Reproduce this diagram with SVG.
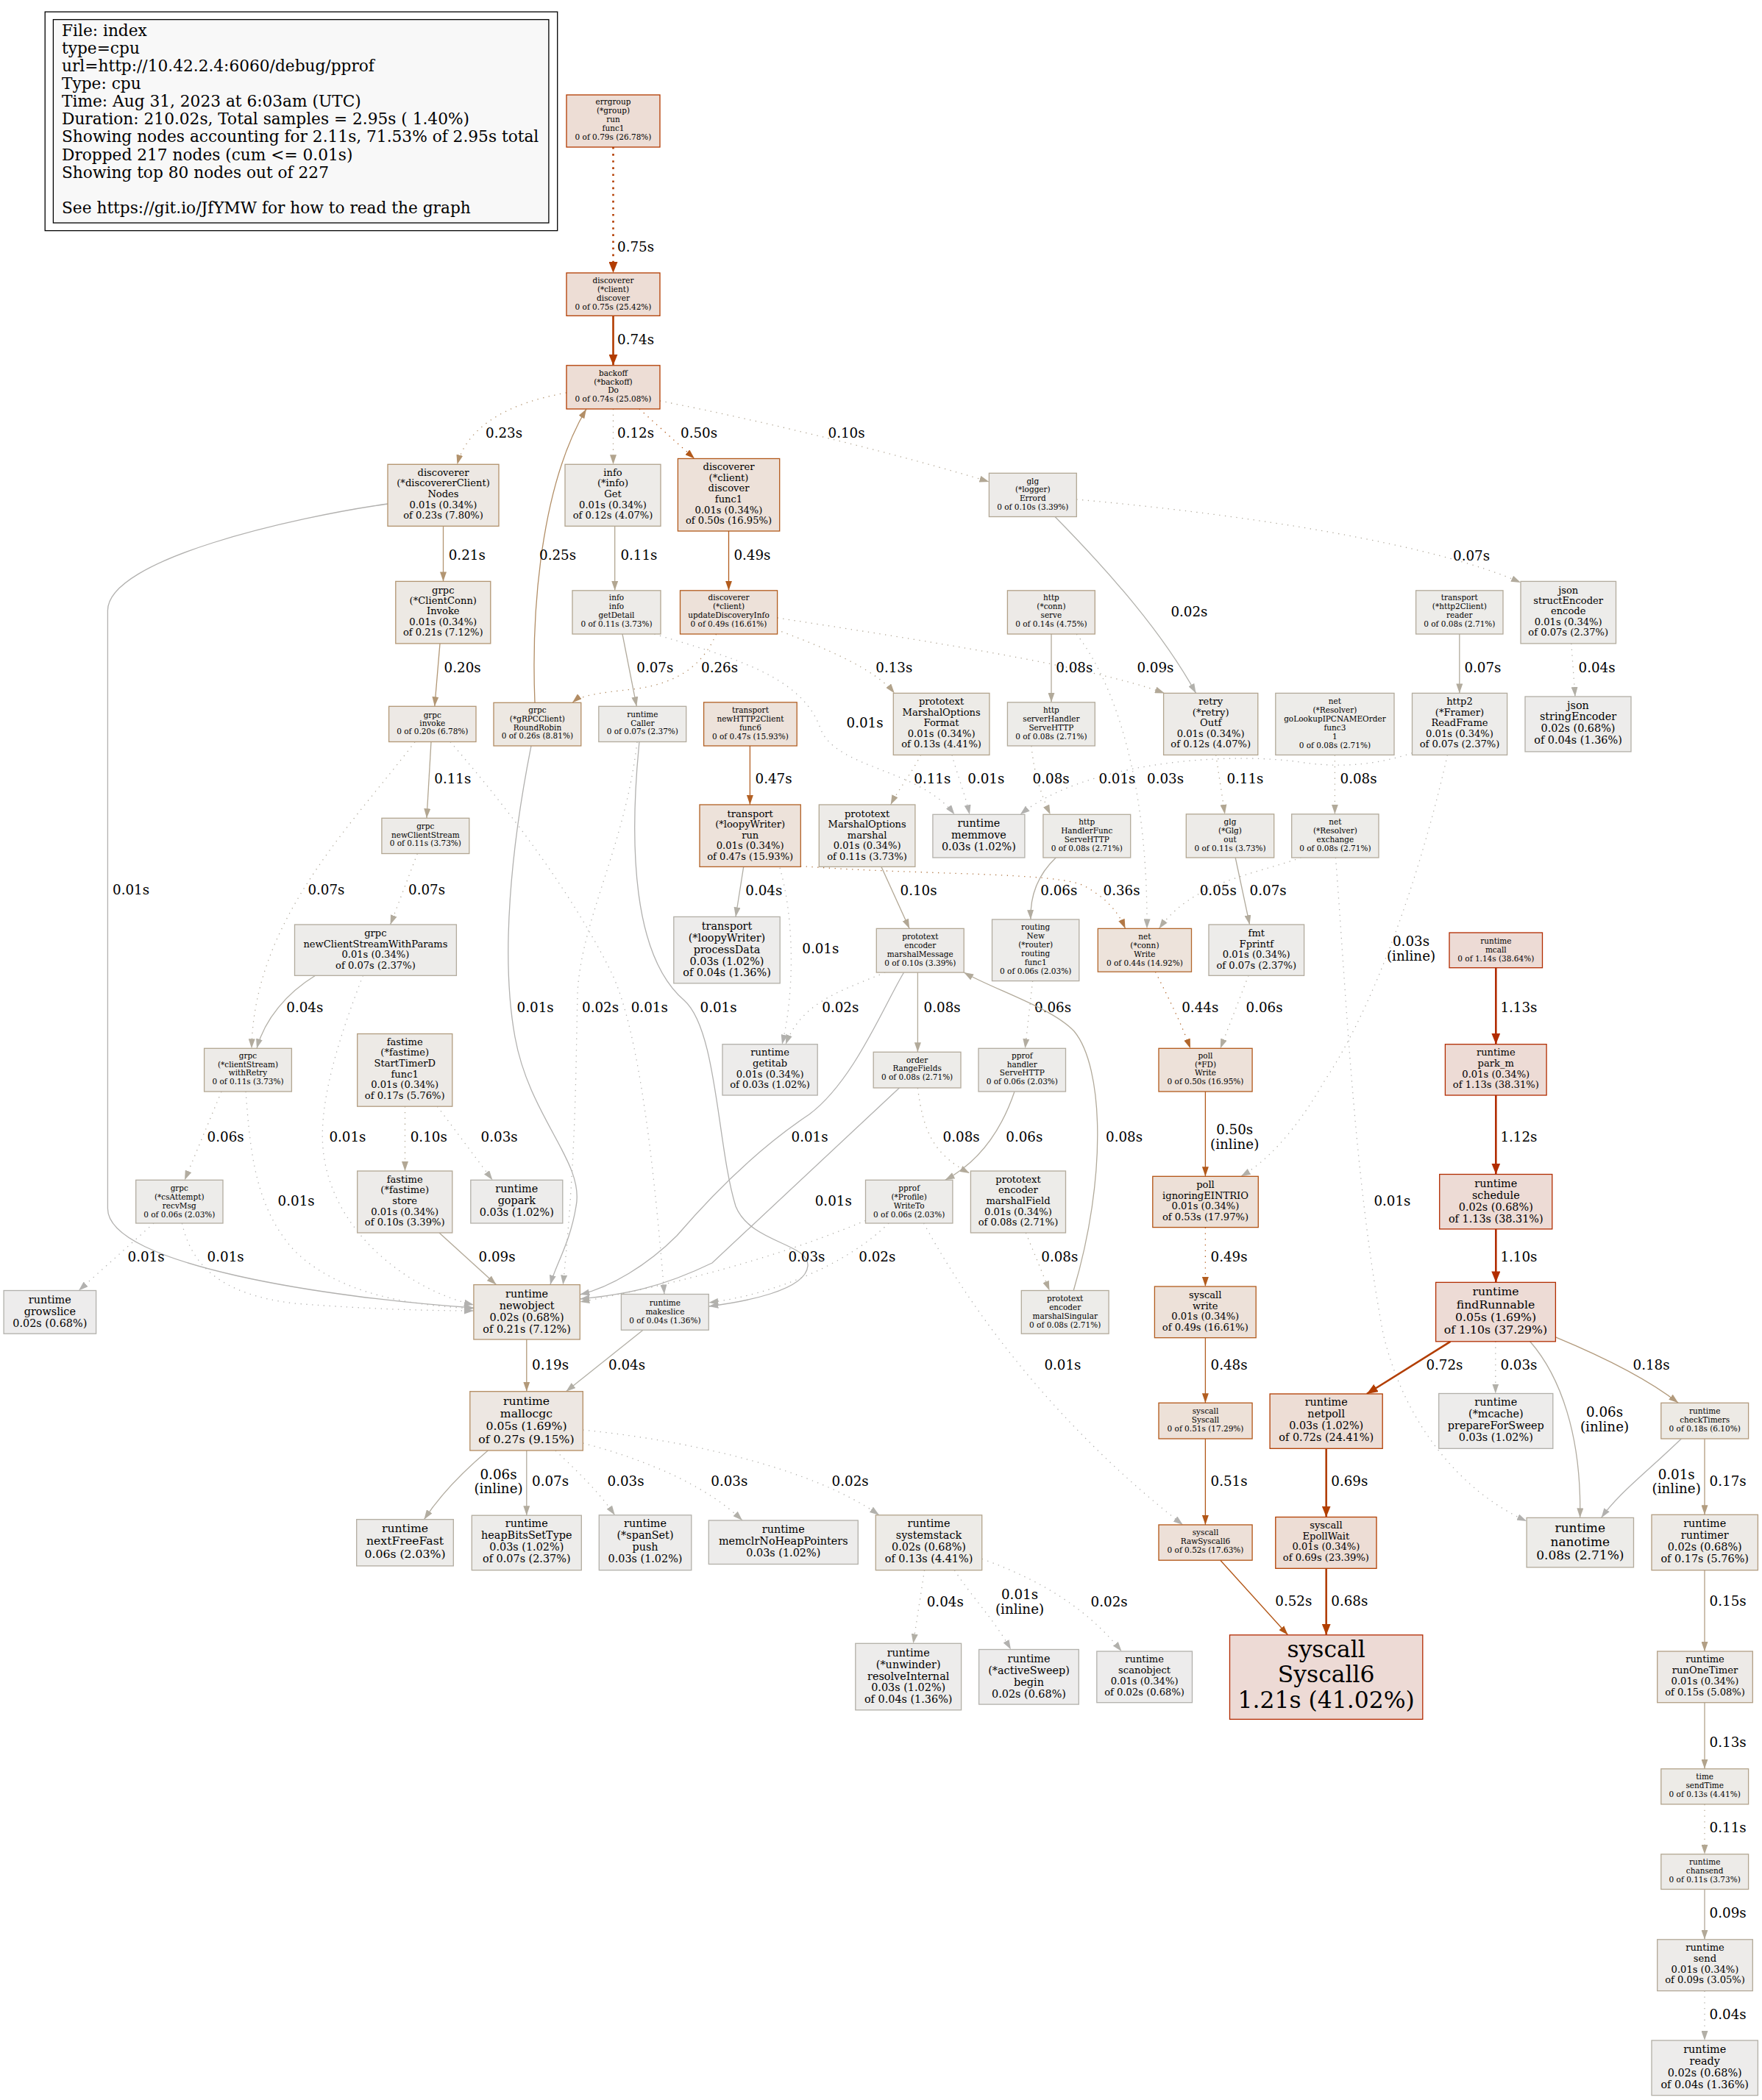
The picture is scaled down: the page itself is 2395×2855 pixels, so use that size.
<svg xmlns="http://www.w3.org/2000/svg" width="2395" height="2855" viewBox="0 0 2395 2855">
<defs>
<style>
text{font-family:"DejaVu Serif",serif;fill:#000}
.n text{text-anchor:middle}
.n rect{stroke-width:1.3}
.t8{font-size:10.5px}
.t10{font-size:13.1px}
.t11{font-size:14.4px}
.t12{font-size:15.7px}
.t13{font-size:17px}
.t24{font-size:31.4px}
.c text{font-size:18.3px}
.c text.m{text-anchor:middle}
.c path{fill:none;stroke-width:1.3}
.c path.b{stroke-width:2.6}
.c path.d{stroke-dasharray:1.3,6.5}
.c path.b.d{stroke-dasharray:2.6,6.5}
.w01{stroke:#b2b1af;marker-end:url(#m01)}
.w02{stroke:#b2b1ac;marker-end:url(#m02)}
.w03{stroke:#b2b0a9;marker-end:url(#m03)}
.w04{stroke:#b2afa6;marker-end:url(#m04)}
.w05{stroke:#b2aea3;marker-end:url(#m05)}
.w06{stroke:#b2aca0;marker-end:url(#m06)}
.w07{stroke:#b2ab9d;marker-end:url(#m07)}
.w08{stroke:#b2aa9a;marker-end:url(#m08)}
.w09{stroke:#b2a897;marker-end:url(#m09)}
.w10{stroke:#b2a794;marker-end:url(#m10)}
.w11{stroke:#b2a691;marker-end:url(#m11)}
.w12{stroke:#b2a48e;marker-end:url(#m12)}
.w13{stroke:#b2a38b;marker-end:url(#m13)}
.w15{stroke:#b29f85;marker-end:url(#m15)}
.w17{stroke:#b29c7f;marker-end:url(#m17)}
.w18{stroke:#b29a7c;marker-end:url(#m18)}
.w19{stroke:#b29979;marker-end:url(#m19)}
.w20{stroke:#b29775;marker-end:url(#m20)}
.w21{stroke:#b29572;marker-end:url(#m21)}
.w23{stroke:#b2926c;marker-end:url(#m23)}
.w25{stroke:#b28e66;marker-end:url(#m25)}
.w26{stroke:#b28c63;marker-end:url(#m26)}
.w36{stroke:#b27845;marker-end:url(#m36)}
.w44{stroke:#b2672d;marker-end:url(#m44)}
.w47{stroke:#b26024;marker-end:url(#m47)}
.w48{stroke:#b25e21;marker-end:url(#m48)}
.w49{stroke:#b25c1e;marker-end:url(#m49)}
.w50{stroke:#b2591b;marker-end:url(#m50)}
.w51{stroke:#b25718;marker-end:url(#m51)}
.w52{stroke:#b25515;marker-end:url(#m52)}
.w69{stroke:#b23f00;marker-end:url(#m69)}
.w72{stroke:#b23d00;marker-end:url(#m72)}
.w75{stroke:#b23c00;marker-end:url(#m75)}
.w110{stroke:#b22d00;marker-end:url(#m110)}
.w113{stroke:#b22c00;marker-end:url(#m113)}
</style>
<marker id="m01" viewBox="0 0 13 9" refX="13" refY="4.5" markerWidth="13" markerHeight="9" markerUnits="userSpaceOnUse" orient="auto"><path d="M0,0L13,4.5L0,9z" fill="#b2b1af"/></marker>
<marker id="m02" viewBox="0 0 13 9" refX="13" refY="4.5" markerWidth="13" markerHeight="9" markerUnits="userSpaceOnUse" orient="auto"><path d="M0,0L13,4.5L0,9z" fill="#b2b1ac"/></marker>
<marker id="m03" viewBox="0 0 13 9" refX="13" refY="4.5" markerWidth="13" markerHeight="9" markerUnits="userSpaceOnUse" orient="auto"><path d="M0,0L13,4.5L0,9z" fill="#b2b0a9"/></marker>
<marker id="m04" viewBox="0 0 13 9" refX="13" refY="4.5" markerWidth="13" markerHeight="9" markerUnits="userSpaceOnUse" orient="auto"><path d="M0,0L13,4.5L0,9z" fill="#b2afa6"/></marker>
<marker id="m05" viewBox="0 0 13 9" refX="13" refY="4.5" markerWidth="13" markerHeight="9" markerUnits="userSpaceOnUse" orient="auto"><path d="M0,0L13,4.5L0,9z" fill="#b2aea3"/></marker>
<marker id="m06" viewBox="0 0 13 9" refX="13" refY="4.5" markerWidth="13" markerHeight="9" markerUnits="userSpaceOnUse" orient="auto"><path d="M0,0L13,4.5L0,9z" fill="#b2aca0"/></marker>
<marker id="m07" viewBox="0 0 13 9" refX="13" refY="4.5" markerWidth="13" markerHeight="9" markerUnits="userSpaceOnUse" orient="auto"><path d="M0,0L13,4.5L0,9z" fill="#b2ab9d"/></marker>
<marker id="m08" viewBox="0 0 13 9" refX="13" refY="4.5" markerWidth="13" markerHeight="9" markerUnits="userSpaceOnUse" orient="auto"><path d="M0,0L13,4.5L0,9z" fill="#b2aa9a"/></marker>
<marker id="m09" viewBox="0 0 13 9" refX="13" refY="4.5" markerWidth="13" markerHeight="9" markerUnits="userSpaceOnUse" orient="auto"><path d="M0,0L13,4.5L0,9z" fill="#b2a897"/></marker>
<marker id="m10" viewBox="0 0 13 9" refX="13" refY="4.5" markerWidth="13" markerHeight="9" markerUnits="userSpaceOnUse" orient="auto"><path d="M0,0L13,4.5L0,9z" fill="#b2a794"/></marker>
<marker id="m11" viewBox="0 0 13 9" refX="13" refY="4.5" markerWidth="13" markerHeight="9" markerUnits="userSpaceOnUse" orient="auto"><path d="M0,0L13,4.5L0,9z" fill="#b2a691"/></marker>
<marker id="m12" viewBox="0 0 13 9" refX="13" refY="4.5" markerWidth="13" markerHeight="9" markerUnits="userSpaceOnUse" orient="auto"><path d="M0,0L13,4.5L0,9z" fill="#b2a48e"/></marker>
<marker id="m13" viewBox="0 0 13 9" refX="13" refY="4.5" markerWidth="13" markerHeight="9" markerUnits="userSpaceOnUse" orient="auto"><path d="M0,0L13,4.5L0,9z" fill="#b2a38b"/></marker>
<marker id="m15" viewBox="0 0 13 9" refX="13" refY="4.5" markerWidth="13" markerHeight="9" markerUnits="userSpaceOnUse" orient="auto"><path d="M0,0L13,4.5L0,9z" fill="#b29f85"/></marker>
<marker id="m17" viewBox="0 0 13 9" refX="13" refY="4.5" markerWidth="13" markerHeight="9" markerUnits="userSpaceOnUse" orient="auto"><path d="M0,0L13,4.5L0,9z" fill="#b29c7f"/></marker>
<marker id="m18" viewBox="0 0 13 9" refX="13" refY="4.5" markerWidth="13" markerHeight="9" markerUnits="userSpaceOnUse" orient="auto"><path d="M0,0L13,4.5L0,9z" fill="#b29a7c"/></marker>
<marker id="m19" viewBox="0 0 13 9" refX="13" refY="4.5" markerWidth="13" markerHeight="9" markerUnits="userSpaceOnUse" orient="auto"><path d="M0,0L13,4.5L0,9z" fill="#b29979"/></marker>
<marker id="m20" viewBox="0 0 13 9" refX="13" refY="4.5" markerWidth="13" markerHeight="9" markerUnits="userSpaceOnUse" orient="auto"><path d="M0,0L13,4.5L0,9z" fill="#b29775"/></marker>
<marker id="m21" viewBox="0 0 13 9" refX="13" refY="4.5" markerWidth="13" markerHeight="9" markerUnits="userSpaceOnUse" orient="auto"><path d="M0,0L13,4.5L0,9z" fill="#b29572"/></marker>
<marker id="m23" viewBox="0 0 13 9" refX="13" refY="4.5" markerWidth="13" markerHeight="9" markerUnits="userSpaceOnUse" orient="auto"><path d="M0,0L13,4.5L0,9z" fill="#b2926c"/></marker>
<marker id="m25" viewBox="0 0 13 9" refX="13" refY="4.5" markerWidth="13" markerHeight="9" markerUnits="userSpaceOnUse" orient="auto"><path d="M0,0L13,4.5L0,9z" fill="#b28e66"/></marker>
<marker id="m26" viewBox="0 0 13 9" refX="13" refY="4.5" markerWidth="13" markerHeight="9" markerUnits="userSpaceOnUse" orient="auto"><path d="M0,0L13,4.5L0,9z" fill="#b28c63"/></marker>
<marker id="m36" viewBox="0 0 13 9" refX="13" refY="4.5" markerWidth="13" markerHeight="9" markerUnits="userSpaceOnUse" orient="auto"><path d="M0,0L13,4.5L0,9z" fill="#b27845"/></marker>
<marker id="m44" viewBox="0 0 13 9" refX="13" refY="4.5" markerWidth="13" markerHeight="9" markerUnits="userSpaceOnUse" orient="auto"><path d="M0,0L13,4.5L0,9z" fill="#b2672d"/></marker>
<marker id="m47" viewBox="0 0 13 9" refX="13" refY="4.5" markerWidth="13" markerHeight="9" markerUnits="userSpaceOnUse" orient="auto"><path d="M0,0L13,4.5L0,9z" fill="#b26024"/></marker>
<marker id="m48" viewBox="0 0 13 9" refX="13" refY="4.5" markerWidth="13" markerHeight="9" markerUnits="userSpaceOnUse" orient="auto"><path d="M0,0L13,4.5L0,9z" fill="#b25e21"/></marker>
<marker id="m49" viewBox="0 0 13 9" refX="13" refY="4.5" markerWidth="13" markerHeight="9" markerUnits="userSpaceOnUse" orient="auto"><path d="M0,0L13,4.5L0,9z" fill="#b25c1e"/></marker>
<marker id="m50" viewBox="0 0 13 9" refX="13" refY="4.5" markerWidth="13" markerHeight="9" markerUnits="userSpaceOnUse" orient="auto"><path d="M0,0L13,4.5L0,9z" fill="#b2591b"/></marker>
<marker id="m51" viewBox="0 0 13 9" refX="13" refY="4.5" markerWidth="13" markerHeight="9" markerUnits="userSpaceOnUse" orient="auto"><path d="M0,0L13,4.5L0,9z" fill="#b25718"/></marker>
<marker id="m52" viewBox="0 0 13 9" refX="13" refY="4.5" markerWidth="13" markerHeight="9" markerUnits="userSpaceOnUse" orient="auto"><path d="M0,0L13,4.5L0,9z" fill="#b25515"/></marker>
<marker id="m69" viewBox="0 0 15 12" refX="15" refY="6" markerWidth="15" markerHeight="12" markerUnits="userSpaceOnUse" orient="auto"><path d="M0,0L15,6L0,12z" fill="#b23f00"/></marker>
<marker id="m72" viewBox="0 0 15 12" refX="15" refY="6" markerWidth="15" markerHeight="12" markerUnits="userSpaceOnUse" orient="auto"><path d="M0,0L15,6L0,12z" fill="#b23d00"/></marker>
<marker id="m75" viewBox="0 0 15 12" refX="15" refY="6" markerWidth="15" markerHeight="12" markerUnits="userSpaceOnUse" orient="auto"><path d="M0,0L15,6L0,12z" fill="#b23c00"/></marker>
<marker id="m110" viewBox="0 0 15 12" refX="15" refY="6" markerWidth="15" markerHeight="12" markerUnits="userSpaceOnUse" orient="auto"><path d="M0,0L15,6L0,12z" fill="#b22d00"/></marker>
<marker id="m113" viewBox="0 0 15 12" refX="15" refY="6" markerWidth="15" markerHeight="12" markerUnits="userSpaceOnUse" orient="auto"><path d="M0,0L15,6L0,12z" fill="#b22c00"/></marker>
</defs>
<rect x="0" y="0" width="2395" height="2855" fill="#ffffff"/>

<g id="legend">
<rect x="61.2" y="16.1" width="696.5" height="297.5" fill="none" stroke="#000" stroke-width="1.3"/>
<rect x="72.4" y="26.6" width="673.5" height="276.4" fill="#f8f8f8" stroke="#000" stroke-width="1.3"/>
<g font-size="21.7px">
<text x="84" y="49.1">File: index</text>
<text x="84" y="73.2">type=cpu</text>
<text x="84" y="97.2">url=http://10.42.2.4:6060/debug/pprof</text>
<text x="84" y="121.3">Type: cpu</text>
<text x="84" y="145.3">Time: Aug 31, 2023 at 6:03am (UTC)</text>
<text x="84" y="169.4">Duration: 210.02s, Total samples = 2.95s ( 1.40%)</text>
<text x="84" y="193.4">Showing nodes accounting for 2.11s, 71.53% of 2.95s total</text>
<text x="84" y="217.5">Dropped 217 nodes (cum &lt;= 0.01s)</text>
<text x="84" y="241.5">Showing top 80 nodes out of 227</text>
<text x="84" y="289.6">See https://git.io/JfYMW for how to read the graph</text>
</g>
</g>

<g id="connectors" class="c">
<path class="w75 d b" d="M833.5,200 L833.5,371"/><text x="839" y="342">0.75s</text>
<path class="w75 b" d="M833.5,429.3 L833.5,496.8"/><text x="839" y="468.3">0.74s</text>
<path class="w23 d" d="M770,534 C690,548 635,580 621.5,631.3"/><text x="660" y="594.6">0.23s</text>
<path class="w12 d" d="M833.5,556 L833.5,631.3"/><text x="839" y="594.6">0.12s</text>
<path class="w50 d" d="M869,556 L944,623.5"/><text x="925" y="594.6">0.50s</text>
<path class="w10 d" d="M897,545 C1050,575 1230,620 1344.4,655"/><text x="1125.5" y="594.6">0.10s</text>
<path class="w21" d="M602.5,715.3 L602.5,790.4"/><text x="609.7" y="761">0.21s</text>
<path class="w01" d="M527,685 C400,703 146.4,760 146.4,830 L146.4,1643 C146.4,1720 450,1765 643.9,1778"/><text x="153" y="1216">0.01s</text>
<path class="w49" d="M990.5,722 L990.5,802.8"/><text x="997.4" y="761">0.49s</text>
<path class="w11" d="M835.7,715.3 L835.7,802.8"/><text x="843.4" y="761">0.11s</text>
<path class="w02" d="M1434,702.5 C1510,780 1580,860 1625.6,942.4"/><text x="1591.4" y="837.7">0.02s</text>
<path class="w07 d" d="M1463.3,679 C1700,700 1950,740 2067,792"/><text x="1975" y="762">0.07s</text>
<path class="w20" d="M598,874.9 L590.8,960.3"/><text x="603.6" y="913.5">0.20s</text>
<path class="w11" d="M586,1008.5 L580,1112.3"/><text x="590.3" y="1065">0.11s</text>
<path class="w07 d" d="M564,1008.5 C480,1120 345,1250 342,1425.3"/><text x="418.4" y="1216">0.07s</text>
<path class="w01 d" d="M612,1008.5 C700,1110 780,1220 830,1320 C870,1400 890,1600 903,1759.5"/><text x="857.7" y="1375.8">0.01s</text>
<path class="w25" d="M727,955.3 C722,830 735,660 797,556"/><text x="733" y="761">0.25s</text>
<path class="w01" d="M722,1014 C695,1150 680,1300 700,1410 C720,1520 795,1580 783,1640 C775,1690 755,1720 748,1746.6"/><text x="702.6" y="1375.8">0.01s</text>
<path class="w26 d" d="M973.5,862 C955,905 920,930 860,937 C815,942 790,945 778,955.3"/><text x="953" y="913.5">0.26s</text>
<path class="w13 d" d="M1055,856 C1120,880 1190,910 1215.8,942.4"/><text x="1190.3" y="913.5">0.13s</text>
<path class="w09 d" d="M1056.6,840 C1250,870 1480,905 1583,942.4"/><text x="1545.4" y="913.5">0.09s</text>
<path class="w07" d="M846,862 L865.3,960.3"/><text x="865.3" y="913.5">0.07s</text>
<path class="w01 d" d="M889.3,862 C1000,895 1090,920 1115,990 C1135,1045 1250,1045 1297.4,1107.3"/><text x="1150.5" y="989.3">0.01s</text>
<path class="w02 d" d="M866,1008.5 C850,1150 790,1250 785,1350 L783,1450 C780,1600 770,1700 765.3,1746.6"/><text x="791" y="1375.8">0.02s</text>
<path class="w01" d="M869,1008.5 C855,1150 860,1300 930,1360 C975,1400 975,1560 1000,1640 C1020,1690 1100,1690 1098,1721 C1095,1755 1010,1770 963.3,1776"/><text x="951.5" y="1375.8">0.01s</text>
<path class="w47" d="M1019.4,1014 L1019.4,1094"/><text x="1026.5" y="1065">0.47s</text>
<path class="w04" d="M1010.7,1178.4 L1000,1246.4"/><text x="1013.3" y="1216.5">0.04s</text>
<path class="w01 d" d="M1060,1179.8 C1080,1250 1080,1350 1063,1419.7"/><text x="1090.3" y="1296">0.01s</text>
<path class="w36 d" d="M1088,1177.5 C1250,1190 1440,1185 1475,1205 C1505,1222 1520,1240 1529.6,1262.4"/><text x="1499.5" y="1216.5">0.36s</text>
<path class="w11 d" d="M1251.5,1026.4 C1240,1050 1220,1075 1210.7,1094"/><text x="1242.3" y="1065">0.11s</text>
<path class="w01 d" d="M1294,1026.4 C1300,1050 1312,1080 1317.9,1107.3"/><text x="1315.3" y="1065">0.01s</text>
<path class="w10" d="M1198,1178.4 L1236.2,1262.4"/><text x="1223.5" y="1216.5">0.10s</text>
<path class="w02 d" d="M1203,1322 C1150,1345 1090,1360 1068,1419.7"/><text x="1117.3" y="1375.8">0.02s</text>
<path class="w08" d="M1247.4,1322.1 L1247.4,1430.3"/><text x="1255.6" y="1375.8">0.08s</text>
<path class="w01" d="M1228.6,1322 C1200,1370 1160,1470 1100,1515 C1040,1555 980,1610 920,1680 C880,1720 830,1750 788.3,1760"/><text x="1075.5" y="1552.4">0.01s</text>
<path class="w01" d="M1222.4,1479 L968,1717 C900,1750 850,1760 788.3,1766"/><text x="1107.7" y="1638.7">0.01s</text>
<path class="w08 d" d="M1247.4,1479 C1255,1540 1270,1570 1317.9,1595"/><text x="1281.6" y="1552.4">0.08s</text>
<path class="w06" d="M1379,1484 C1360,1540 1330,1580 1284.7,1604.3"/><text x="1367.3" y="1552.4">0.06s</text>
<path class="w06 d" d="M1403.6,1333.6 L1393.4,1425.3"/><text x="1406" y="1375.8">0.06s</text>
<path class="w08 d" d="M1394.4,1676 L1426.5,1754.5"/><text x="1415.3" y="1714.5">0.08s</text>
<path class="w08" d="M1459.2,1754.5 C1505,1600 1500,1450 1460,1402 C1430,1370 1350,1345 1310.2,1322"/><text x="1503" y="1552.4">0.08s</text>
<path class="w03 d" d="M1176.5,1659.4 C1080,1700 950,1740 788.3,1770"/><text x="1071.4" y="1714.5">0.03s</text>
<path class="w02 d" d="M1208,1663 C1150,1720 1050,1760 963.3,1771"/><text x="1167.3" y="1714.5">0.02s</text>
<path class="w01 d" d="M1255.6,1663 C1330,1800 1450,1950 1607.8,2073"/><text x="1419.4" y="1862.3">0.01s</text>
<path class="w04" d="M874,1808.2 L769.4,1891.7"/><text x="827" y="1862.3">0.04s</text>
<path class="w19" d="M715.8,1821 L715.8,1891.7"/><text x="723" y="1862.3">0.19s</text>
<path class="w06" d="M663.3,1972 C630,2000 600,2030 576.5,2065.7"/><text class="m" x="677.5" y="2010.6">0.06s</text><text class="m" x="677.5" y="2030.4">(inline)</text>
<path class="w07" d="M715.8,1972 L715.8,2060.2"/><text x="723" y="2019.8">0.07s</text>
<path class="w03 d" d="M755,1972 C790,2005 815,2030 835.7,2059.8"/><text x="825.5" y="2019.8">0.03s</text>
<path class="w03 d" d="M792.3,1962 C880,1985 960,2020 1009,2067"/><text x="966.3" y="2019.8">0.03s</text>
<path class="w02 d" d="M792.3,1944 C950,1960 1110,2000 1195,2059.8"/><text x="1130.6" y="2019.8">0.02s</text>
<path class="w04 d" d="M1256.6,2134.7 L1241.3,2234.3"/><text x="1259.7" y="2183.8">0.04s</text>
<path class="w01 d" d="M1297.4,2134.7 C1320,2170 1350,2200 1374,2242.5"/><text class="m" x="1386" y="2174.1">0.01s</text><text class="m" x="1386" y="2193.9">(inline)</text>
<path class="w02 d" d="M1334.7,2119.3 C1420,2150 1480,2190 1524.5,2245"/><text x="1482.6" y="2183.8">0.02s</text>
<path class="w09" d="M597,1676 L674.5,1746.6"/><text x="650.5" y="1714.5">0.09s</text>
<path class="w10 d" d="M550.5,1504.2 L550.5,1592"/><text x="557.7" y="1551.5">0.10s</text>
<path class="w03 d" d="M594.4,1504.2 L669.4,1604.3"/><text x="653.6" y="1551.5">0.03s</text>
<path class="w06 d" d="M301,1484 L251,1604.3"/><text x="281.6" y="1551.5">0.06s</text>
<path class="w01 d" d="M334,1484 C340,1560 345,1640 400,1700 C460,1760 560,1775 643.9,1779"/><text x="377.6" y="1638.7">0.01s</text>
<path class="w01 d" d="M209,1663 L107,1754.5"/><text x="173.5" y="1714.5">0.01s</text>
<path class="w01 d" d="M247.4,1663 C260,1720 300,1760 400,1772 C500,1780 590,1782 643.9,1782"/><text x="281.6" y="1714.5">0.01s</text>
<path class="w07 d" d="M567.3,1160.5 L530.6,1257"/><text x="555" y="1216">0.07s</text>
<path class="w04" d="M428.6,1326.3 C390,1350 360,1385 349,1425.3"/><text x="389.3" y="1375.8">0.04s</text>
<path class="w01 d" d="M493.4,1326.3 C465,1400 430,1500 440,1570 C455,1680 560,1755 643.9,1774"/><text x="447.4" y="1552.4">0.01s</text>
<path class="w08" d="M1429,862 L1429,954.8"/><text x="1435.2" y="913.5">0.08s</text>
<path class="w03 d" d="M1463.3,862 C1530,950 1560,1100 1559,1262.4"/><text x="1559" y="1065">0.03s</text>
<path class="w08 d" d="M1402,1014 C1405,1050 1415,1080 1427.6,1107.3"/><text x="1403.6" y="1065">0.08s</text>
<path class="w06" d="M1435.2,1166 C1410,1190 1400,1220 1401,1250"/><text x="1414.3" y="1216.5">0.06s</text>
<path class="w11 d" d="M1652.7,1026.4 L1664.9,1106.8"/><text x="1667.4" y="1065">0.11s</text>
<path class="w01 d" d="M1919.5,1023.7 C1870,1040 1820,1045 1760,1035 C1650,1022 1470,1040 1386.7,1107.3"/><text x="1493.4" y="1065">0.01s</text>
<path class="w08 d" d="M1814.4,1026.4 L1814.4,1106.8"/><text x="1821.5" y="1065">0.08s</text>
<path class="w07" d="M1983.8,862 L1983.8,942.4"/><text x="1990.4" y="913.5">0.07s</text>
<path class="w03 d" d="M1967.4,1026.4 C1940,1150 1880,1350 1800,1470 C1760,1540 1720,1580 1686.8,1599.3"/><text class="m" x="1918" y="1286.3">0.03s</text><text class="m" x="1918" y="1306">(inline)</text>
<path class="w04 d" d="M2135.8,874.9 L2141,947"/><text x="2145.5" y="913.5">0.04s</text>
<path class="w07" d="M1679.2,1166 L1698.6,1257"/><text x="1698.6" y="1216.5">0.07s</text>
<path class="w05 d" d="M1768.5,1166 C1700,1190 1620,1200 1575.5,1262.4"/><text x="1630.7" y="1216.5">0.05s</text>
<path class="w01 d" d="M1815.4,1166 C1830,1350 1840,1600 1880,1813 C1910,1940 1990,2030 2075.1,2068"/><text x="1867.4" y="1638.7">0.01s</text>
<path class="w44 d" d="M1570.4,1321.2 C1590,1360 1605,1390 1618,1425.3"/><text x="1606.2" y="1375.8">0.44s</text>
<path class="w06 d" d="M1697,1326.3 L1658.8,1425.3"/><text x="1693.5" y="1375.8">0.06s</text>
<path class="w113 b" d="M2033.3,1315.7 L2033.3,1419.7"/><text x="2039.4" y="1375.8">1.13s</text>
<path class="w50" d="M1638.4,1484 L1638.4,1599.3"/><text class="m" x="1678.2" y="1542.3">0.50s</text><text class="m" x="1678.2" y="1562.1">(inline)</text>
<path class="w49 d" d="M1638.4,1668.6 L1638.4,1749"/><text x="1645.5" y="1714.5">0.49s</text>
<path class="w48" d="M1638.4,1818.7 L1638.4,1907.3"/><text x="1645.5" y="1862.3">0.48s</text>
<path class="w51" d="M1638.4,1956 L1638.4,2073"/><text x="1645.5" y="2019.8">0.51s</text>
<path class="w52" d="M1658.8,2121.2 L1750.6,2222.8"/><text x="1733.3" y="2182.8">0.52s</text>
<path class="w110 b" d="M2033.3,1489 L2033.3,1596.5"/><text x="2039.4" y="1552.4">1.12s</text>
<path class="w110 b" d="M2033.3,1670.9 L2033.3,1743.4"/><text x="2039.4" y="1714.5">1.10s</text>
<path class="w72 b" d="M1971.5,1823.8 L1857.8,1895"/><text x="1938.4" y="1862.3">0.72s</text>
<path class="w03 d" d="M2032.8,1823.8 L2032.8,1894.5"/><text x="2039.4" y="1862.3">0.03s</text>
<path class="w06" d="M2079.7,1823.8 C2120,1870 2150,1950 2147.6,2063.4"/><text class="m" x="2181" y="1926.2">0.06s</text><text class="m" x="2181" y="1946">(inline)</text>
<path class="w18" d="M2114.4,1817.8 C2180,1845 2240,1875 2281.2,1907.3"/><text x="2219.5" y="1862.3">0.18s</text>
<path class="w69 b" d="M1802.7,1969.3 L1802.7,2062.5"/><text x="1809.3" y="2019.8">0.69s</text>
<path class="w69 b" d="M1802.7,2132.3 L1802.7,2222.8"/><text x="1809.3" y="2182.8">0.68s</text>
<path class="w01" d="M2285.3,1956 C2240,2000 2200,2030 2176.6,2063.4"/><text class="m" x="2278.7" y="2010.6">0.01s</text><text class="m" x="2278.7" y="2030.4">(inline)</text>
<path class="w17" d="M2317,1956 L2317,2059.3"/><text x="2323.6" y="2019.8">0.17s</text>
<path class="w15" d="M2317,2134.7 L2317,2245"/><text x="2323.6" y="2182.8">0.15s</text>
<path class="w13" d="M2317,2314.7 L2317,2404.8"/><text x="2323.6" y="2375.4">0.13s</text>
<path class="w11 d" d="M2317,2452.9 L2317,2520.8"/><text x="2323.6" y="2491">0.11s</text>
<path class="w09" d="M2317,2568.5 L2317,2636.8"/><text x="2323.6" y="2607">0.09s</text>
<path class="w04 d" d="M2317,2706.6 L2317,2774"/><text x="2323.6" y="2745.2">0.04s</text>
</g>

<g id="errgroup" class="n t8"><rect x="770" y="129" width="127" height="71" fill="#edddd5" stroke="#b23a00"/><text x="833.5" y="142.3">errgroup</text><text x="833.5" y="154.3">(*group)</text><text x="833.5" y="166.2">run</text><text x="833.5" y="178.1">func1</text><text x="833.5" y="190.1">0 of 0.79s (26.78%)</text></g>
<g id="discover" class="n t8"><rect x="770" y="371" width="127" height="58.3" fill="#edddd5" stroke="#b23c00"/><text x="833.5" y="384.8">discoverer</text><text x="833.5" y="396.7">(*client)</text><text x="833.5" y="408.6">discover</text><text x="833.5" y="420.6">0 of 0.75s (25.42%)</text></g>
<g id="backoff" class="n t8"><rect x="770" y="496.8" width="127" height="59.2" fill="#edddd5" stroke="#b23c00"/><text x="833.5" y="510.6">backoff</text><text x="833.5" y="522.5">(*backoff)</text><text x="833.5" y="534.4">Do</text><text x="833.5" y="546.4">0 of 0.74s (25.08%)</text></g>
<g id="discovererNodes" class="n t10"><rect x="527" y="631.3" width="151" height="84" fill="#ede8e3" stroke="#b2926c"/><text x="602.5" y="646.5">discoverer</text><text x="602.5" y="661.2">(*discovererClient)</text><text x="602.5" y="675.8">Nodes</text><text x="602.5" y="690.5">0.01s (0.34%)</text><text x="602.5" y="705.2">of 0.23s (7.80%)</text></g>
<g id="infoGet" class="n t10"><rect x="768" y="631.3" width="130" height="84" fill="#edebe8" stroke="#b2a48e"/><text x="833" y="646.5">info</text><text x="833" y="661.2">(*info)</text><text x="833" y="675.8">Get</text><text x="833" y="690.5">0.01s (0.34%)</text><text x="833" y="705.2">of 0.12s (4.07%)</text></g>
<g id="discoverFunc1" class="n t10"><rect x="921.4" y="623.5" width="138.3" height="98.5" fill="#ede1d9" stroke="#b2591b"/><text x="990.5" y="639.1">discoverer</text><text x="990.5" y="653.8">(*client)</text><text x="990.5" y="668.4">discover</text><text x="990.5" y="683">func1</text><text x="990.5" y="697.6">0.01s (0.34%)</text><text x="990.5" y="712.2">of 0.50s (16.95%)</text></g>
<g id="glgErrord" class="n t8"><rect x="1344.4" y="643.3" width="118.9" height="59.2" fill="#edebe9" stroke="#b2a794"/><text x="1403.8" y="657.5">glg</text><text x="1403.8" y="669.4">(*logger)</text><text x="1403.8" y="681.4">Errord</text><text x="1403.8" y="693.3">0 of 0.10s (3.39%)</text></g>
<g id="grpcInvokeCC" class="n t10"><rect x="537.8" y="790.4" width="129" height="84.5" fill="#ede9e4" stroke="#b29572"/><text x="602.3" y="806.5">grpc</text><text x="602.3" y="820.8">(*ClientConn)</text><text x="602.3" y="835.4">Invoke</text><text x="602.3" y="850.1">0.01s (0.34%)</text><text x="602.3" y="864.4">of 0.21s (7.12%)</text></g>
<g id="grpcInvoke" class="n t8"><rect x="528.6" y="960.3" width="118.4" height="48.2" fill="#ede9e5" stroke="#b29775"/><text x="587.8" y="975.5">grpc</text><text x="587.8" y="987">invoke</text><text x="587.8" y="998.4">0 of 0.20s (6.78%)</text></g>
<g id="roundRobin" class="n t8"><rect x="671" y="955.3" width="118.8" height="58.7" fill="#ede8e2" stroke="#b28c63"/><text x="730.4" y="969">grpc</text><text x="730.4" y="980.5">(*gRPCClient)</text><text x="730.4" y="992.5">RoundRobin</text><text x="730.4" y="1004.4">0 of 0.26s (8.81%)</text></g>
<g id="newClientStream" class="n t8"><rect x="518.9" y="1112.3" width="118.9" height="48.2" fill="#edebe8" stroke="#b2a691"/><text x="578.3" y="1127">grpc</text><text x="578.3" y="1138.5">newClientStream</text><text x="578.3" y="1150.4">0 of 0.11s (3.73%)</text></g>
<g id="newClientStreamWithParams" class="n t10"><rect x="400.5" y="1257" width="219.9" height="69.3" fill="#edecea" stroke="#b2ab9d"/><text x="510.4" y="1273">grpc</text><text x="510.4" y="1287.7">newClientStreamWithParams</text><text x="510.4" y="1302.4">0.01s (0.34%)</text><text x="510.4" y="1316.6">of 0.07s (2.37%)</text></g>
<g id="withRetry" class="n t8"><rect x="277.6" y="1425.3" width="118.8" height="58.7" fill="#edebe8" stroke="#b2a691"/><text x="337" y="1438.6">grpc</text><text x="337" y="1450.5">(*clientStream)</text><text x="337" y="1462.4">withRetry</text><text x="337" y="1474.4">0 of 0.11s (3.73%)</text></g>
<g id="startTimerD" class="n t10"><rect x="485.7" y="1405.5" width="129.1" height="98.7" fill="#edeae6" stroke="#b29c7f"/><text x="550.2" y="1420.7">fastime</text><text x="550.2" y="1435.4">(*fastime)</text><text x="550.2" y="1450">StartTimerD</text><text x="550.2" y="1464.6">func1</text><text x="550.2" y="1479.2">0.01s (0.34%)</text><text x="550.2" y="1493.8">of 0.17s (5.76%)</text></g>
<g id="recvMsg" class="n t8"><rect x="184.7" y="1604.3" width="118.3" height="58.7" fill="#edecea" stroke="#b2aca0"/><text x="243.8" y="1619">grpc</text><text x="243.8" y="1630.9">(*csAttempt)</text><text x="243.8" y="1642.8">recvMsg</text><text x="243.8" y="1654.7">0 of 0.06s (2.03%)</text></g>
<g id="fastimeStore" class="n t10"><rect x="485.7" y="1592" width="129.1" height="84" fill="#edebe9" stroke="#b2a794"/><text x="550.2" y="1607.5">fastime</text><text x="550.2" y="1622.2">(*fastime)</text><text x="550.2" y="1636.9">store</text><text x="550.2" y="1651.6">0.01s (0.34%)</text><text x="550.2" y="1666.3">of 0.10s (3.39%)</text></g>
<g id="gopark" class="n t11"><rect x="639.8" y="1604.3" width="125" height="58.7" fill="#edeceb" stroke="#b2b0a9"/><text x="702.3" y="1621.3">runtime</text><text x="702.3" y="1637.4">gopark</text><text x="702.3" y="1653.4">0.03s (1.02%)</text></g>
<g id="growslice" class="n t11"><rect x="5.1" y="1754.5" width="125.5" height="58.7" fill="#edecec" stroke="#b2b1ac"/><text x="67.8" y="1771.9">runtime</text><text x="67.8" y="1788">growslice</text><text x="67.8" y="1803.9">0.02s (0.68%)</text></g>
<g id="newobject" class="n t11"><rect x="643.9" y="1746.6" width="144.4" height="74.4" fill="#ede9e4" stroke="#b29572"/><text x="716.1" y="1764">runtime</text><text x="716.1" y="1780">newobject</text><text x="716.1" y="1795.9">0.02s (0.68%)</text><text x="716.1" y="1811.8">of 0.21s (7.12%)</text></g>
<g id="mallocgc" class="n t12"><rect x="638.8" y="1891.7" width="153.5" height="80.3" fill="#ede7e2" stroke="#b28a60"/><text x="715.5" y="1909.6">runtime</text><text x="715.5" y="1926.9">mallocgc</text><text x="715.5" y="1944.2">0.05s (1.69%)</text><text x="715.5" y="1961.5">of 0.27s (9.15%)</text></g>
<g id="nextFreeFast" class="n t12"><rect x="484.7" y="2065.7" width="131.6" height="63.2" fill="#edecea" stroke="#b2aca0"/><text x="550.5" y="2083.2">runtime</text><text x="550.5" y="2100.4">nextFreeFast</text><text x="550.5" y="2117.6">0.06s (2.03%)</text></g>
<g id="heapBitsSetType" class="n t11"><rect x="641.3" y="2060.2" width="149" height="74.5" fill="#edecea" stroke="#b2ab9d"/><text x="715.8" y="2076.3">runtime</text><text x="715.8" y="2092.2">heapBitsSetType</text><text x="715.8" y="2108.1">0.03s (1.02%)</text><text x="715.8" y="2124">of 0.07s (2.37%)</text></g>
<g id="spanSetPush" class="n t11"><rect x="814.3" y="2059.8" width="125.5" height="74.9" fill="#edeceb" stroke="#b2b0a9"/><text x="877" y="2075.8">runtime</text><text x="877" y="2091.9">(*spanSet)</text><text x="877" y="2108">push</text><text x="877" y="2124">0.03s (1.02%)</text></g>
<g id="memclrNoHeapPointers" class="n t11"><rect x="963.3" y="2067" width="203" height="59.5" fill="#edeceb" stroke="#b2b0a9"/><text x="1064.8" y="2084">runtime</text><text x="1064.8" y="2100">memclrNoHeapPointers</text><text x="1064.8" y="2115.9">0.03s (1.02%)</text></g>
<g id="systemstack" class="n t11"><rect x="1190.3" y="2059.8" width="144.4" height="74.9" fill="#edebe7" stroke="#b2a38b"/><text x="1262.5" y="2075.8">runtime</text><text x="1262.5" y="2091.9">systemstack</text><text x="1262.5" y="2108">0.02s (0.68%)</text><text x="1262.5" y="2124">of 0.13s (4.41%)</text></g>
<g id="resolveInternal" class="n t11"><rect x="1162.8" y="2234.3" width="143.8" height="90.5" fill="#edeceb" stroke="#b2afa6"/><text x="1234.7" y="2251.7">runtime</text><text x="1234.7" y="2267.6">(*unwinder)</text><text x="1234.7" y="2283.5">resolveInternal</text><text x="1234.7" y="2299.4">0.03s (1.02%)</text><text x="1234.7" y="2315.3">of 0.04s (1.36%)</text></g>
<g id="activeSweepBegin" class="n t11"><rect x="1330.6" y="2242.5" width="135.7" height="74.6" fill="#edecec" stroke="#b2b1ac"/><text x="1398.5" y="2259.8">runtime</text><text x="1398.5" y="2275.7">(*activeSweep)</text><text x="1398.5" y="2291.6">begin</text><text x="1398.5" y="2307.5">0.02s (0.68%)</text></g>
<g id="scanobject" class="n t10"><rect x="1490.8" y="2245" width="129.7" height="69.7" fill="#edecec" stroke="#b2b1ac"/><text x="1555.6" y="2260.3">runtime</text><text x="1555.6" y="2275.2">scanobject</text><text x="1555.6" y="2290.1">0.01s (0.34%)</text><text x="1555.6" y="2304.6">of 0.02s (0.68%)</text></g>
<g id="getitab" class="n t10"><rect x="982" y="1419.7" width="129.2" height="69.3" fill="#edeceb" stroke="#b2b0a9"/><text x="1046.6" y="1435.4">runtime</text><text x="1046.6" y="1450">getitab</text><text x="1046.6" y="1464.6">0.01s (0.34%)</text><text x="1046.6" y="1479.2">of 0.03s (1.02%)</text></g>
<g id="rangeFields" class="n t8"><rect x="1187.2" y="1430.3" width="118.8" height="48.7" fill="#edece9" stroke="#b2aa9a"/><text x="1246.6" y="1444.5">order</text><text x="1246.6" y="1456.3">RangeFields</text><text x="1246.6" y="1468.2">0 of 0.08s (2.71%)</text></g>
<g id="pprofHandler" class="n t8"><rect x="1330" y="1425.3" width="118.5" height="58.7" fill="#edecea" stroke="#b2aca0"/><text x="1389.3" y="1438.6">pprof</text><text x="1389.3" y="1450.5">handler</text><text x="1389.3" y="1462.4">ServeHTTP</text><text x="1389.3" y="1474.4">0 of 0.06s (2.03%)</text></g>
<g id="profileWriteTo" class="n t8"><rect x="1176.5" y="1604.3" width="118.4" height="58.7" fill="#edecea" stroke="#b2aca0"/><text x="1235.7" y="1619">pprof</text><text x="1235.7" y="1630.9">(*Profile)</text><text x="1235.7" y="1642.8">WriteTo</text><text x="1235.7" y="1654.7">0 of 0.06s (2.03%)</text></g>
<g id="marshalField" class="n t10"><rect x="1319.4" y="1592" width="129.1" height="84" fill="#edece9" stroke="#b2aa9a"/><text x="1384" y="1607.5">prototext</text><text x="1384" y="1622.2">encoder</text><text x="1384" y="1636.9">marshalField</text><text x="1384" y="1651.6">0.01s (0.34%)</text><text x="1384" y="1666.3">of 0.08s (2.71%)</text></g>
<g id="marshalSingular" class="n t8"><rect x="1388.3" y="1754.5" width="118.8" height="58.7" fill="#edece9" stroke="#b2aa9a"/><text x="1447.7" y="1769">prototext</text><text x="1447.7" y="1780.9">encoder</text><text x="1447.7" y="1792.8">marshalSingular</text><text x="1447.7" y="1804.7">0 of 0.08s (2.71%)</text></g>
<g id="makeslice" class="n t8"><rect x="844.4" y="1759.5" width="118.9" height="48.7" fill="#edeceb" stroke="#b2afa6"/><text x="903.9" y="1774.7">runtime</text><text x="903.9" y="1786.6">makeslice</text><text x="903.9" y="1798.5">0 of 0.04s (1.36%)</text></g>
<g id="getDetail" class="n t8"><rect x="778" y="802.8" width="120" height="59.2" fill="#edebe8" stroke="#b2a691"/><text x="838" y="816.4">info</text><text x="838" y="828.4">info</text><text x="838" y="840.4">getDetail</text><text x="838" y="852.4">0 of 0.11s (3.73%)</text></g>
<g id="updateDiscoveryInfo" class="n t8"><rect x="924.5" y="802.8" width="132.1" height="59.2" fill="#ede1d9" stroke="#b25c1e"/><text x="990.5" y="816.4">discoverer</text><text x="990.5" y="828.4">(*client)</text><text x="990.5" y="840.4">updateDiscoveryInfo</text><text x="990.5" y="852.4">0 of 0.49s (16.61%)</text></g>
<g id="runtimeCaller" class="n t8"><rect x="813.8" y="960.3" width="118.9" height="48.2" fill="#edecea" stroke="#b2ab9d"/><text x="873.3" y="974.6">runtime</text><text x="873.3" y="986.5">Caller</text><text x="873.3" y="998.4">0 of 0.07s (2.37%)</text></g>
<g id="newHTTP2ClientFunc6" class="n t8"><rect x="956.6" y="954.8" width="126.6" height="59.2" fill="#ede2da" stroke="#b26024"/><text x="1019.9" y="969">transport</text><text x="1019.9" y="980.9">newHTTP2Client</text><text x="1019.9" y="992.8">func6</text><text x="1019.9" y="1004.7">0 of 0.47s (15.93%)</text></g>
<g id="loopyWriterRun" class="n t10"><rect x="951" y="1094" width="137.3" height="84.4" fill="#ede2da" stroke="#b26024"/><text x="1019.7" y="1110.6">transport</text><text x="1019.7" y="1125.2">(*loopyWriter)</text><text x="1019.7" y="1139.8">run</text><text x="1019.7" y="1154.4">0.01s (0.34%)</text><text x="1019.7" y="1169">of 0.47s (15.93%)</text></g>
<g id="processData" class="n t11"><rect x="915.8" y="1246.4" width="144.4" height="90.4" fill="#edeceb" stroke="#b2afa6"/><text x="988" y="1263.8">transport</text><text x="988" y="1279.7">(*loopyWriter)</text><text x="988" y="1295.6">processData</text><text x="988" y="1311.5">0.03s (1.02%)</text><text x="988" y="1327.4">of 0.04s (1.36%)</text></g>
<g id="marshalOptionsFormat" class="n t10"><rect x="1214.3" y="942.4" width="130.6" height="84" fill="#edebe7" stroke="#b2a38b"/><text x="1279.6" y="958.3">prototext</text><text x="1279.6" y="972.8">MarshalOptions</text><text x="1279.6" y="987.3">Format</text><text x="1279.6" y="1001.8">0.01s (0.34%)</text><text x="1279.6" y="1016.3">of 0.13s (4.41%)</text></g>
<g id="marshalOptionsMarshal" class="n t10"><rect x="1113.3" y="1094" width="130.6" height="84.4" fill="#edebe8" stroke="#b2a691"/><text x="1178.6" y="1110.6">prototext</text><text x="1178.6" y="1125.2">MarshalOptions</text><text x="1178.6" y="1139.8">marshal</text><text x="1178.6" y="1154.4">0.01s (0.34%)</text><text x="1178.6" y="1169">of 0.11s (3.73%)</text></g>
<g id="memmove" class="n t11"><rect x="1267.9" y="1107.3" width="125" height="58.7" fill="#edeceb" stroke="#b2b0a9"/><text x="1330.4" y="1123.5">runtime</text><text x="1330.4" y="1139.5">memmove</text><text x="1330.4" y="1155.5">0.03s (1.02%)</text></g>
<g id="connServe" class="n t8"><rect x="1369.4" y="802.8" width="118.9" height="59.2" fill="#edeae7" stroke="#b2a188"/><text x="1428.9" y="816.4">http</text><text x="1428.9" y="828.4">(*conn)</text><text x="1428.9" y="840.4">serve</text><text x="1428.9" y="852.4">0 of 0.14s (4.75%)</text></g>
<g id="serverHandler" class="n t8"><rect x="1369.4" y="954.8" width="118.9" height="59.2" fill="#edece9" stroke="#b2aa9a"/><text x="1428.9" y="969">http</text><text x="1428.9" y="980.9">serverHandler</text><text x="1428.9" y="992.8">ServeHTTP</text><text x="1428.9" y="1004.7">0 of 0.08s (2.71%)</text></g>
<g id="handlerFunc" class="n t8"><rect x="1417.9" y="1107.3" width="118.8" height="58.7" fill="#edece9" stroke="#b2aa9a"/><text x="1477.3" y="1120.8">http</text><text x="1477.3" y="1132.7">HandlerFunc</text><text x="1477.3" y="1144.6">ServeHTTP</text><text x="1477.3" y="1156.5">0 of 0.08s (2.71%)</text></g>
<g id="routingFunc1" class="n t8"><rect x="1348.5" y="1250" width="118.3" height="83.6" fill="#edecea" stroke="#b2aca0"/><text x="1407.7" y="1264.3">routing</text><text x="1407.7" y="1276.2">New</text><text x="1407.7" y="1288.2">(*router)</text><text x="1407.7" y="1300.1">routing</text><text x="1407.7" y="1312">func1</text><text x="1407.7" y="1324">0 of 0.06s (2.03%)</text></g>
<g id="marshalMessage" class="n t8"><rect x="1191.3" y="1262.4" width="118.9" height="59.7" fill="#edebe9" stroke="#b2a794"/><text x="1250.8" y="1276.7">prototext</text><text x="1250.8" y="1288.6">encoder</text><text x="1250.8" y="1300.5">marshalMessage</text><text x="1250.8" y="1312.5">0 of 0.10s (3.39%)</text></g>
<g id="netConnWrite" class="n t8"><rect x="1492.3" y="1262.4" width="127.2" height="58.8" fill="#ede3db" stroke="#b2672d"/><text x="1555.9" y="1276.7">net</text><text x="1555.9" y="1288.6">(*conn)</text><text x="1555.9" y="1300.5">Write</text><text x="1555.9" y="1312.5">0 of 0.44s (14.92%)</text></g>
<g id="retryOutf" class="n t10"><rect x="1581.6" y="942.4" width="128.2" height="84" fill="#edebe8" stroke="#b2a48e"/><text x="1645.7" y="958.3">retry</text><text x="1645.7" y="972.8">(*retry)</text><text x="1645.7" y="987.3">Outf</text><text x="1645.7" y="1001.8">0.01s (0.34%)</text><text x="1645.7" y="1016.3">of 0.12s (4.07%)</text></g>
<g id="goLookupFunc3" class="n t8"><rect x="1733.8" y="942.4" width="161.2" height="84" fill="#edece9" stroke="#b2aa9a"/><text x="1814.4" y="957.1">net</text><text x="1814.4" y="969">(*Resolver)</text><text x="1814.4" y="981">goLookupIPCNAMEOrder</text><text x="1814.4" y="992.9">func3</text><text x="1814.4" y="1004.9">1</text><text x="1814.4" y="1016.8">0 of 0.08s (2.71%)</text></g>
<g id="http2ClientReader" class="n t8"><rect x="1924.6" y="802.8" width="118.4" height="59.2" fill="#edece9" stroke="#b2aa9a"/><text x="1983.8" y="816.4">transport</text><text x="1983.8" y="828.4">(*http2Client)</text><text x="1983.8" y="840.4">reader</text><text x="1983.8" y="852.4">0 of 0.08s (2.71%)</text></g>
<g id="readFrame" class="n t10"><rect x="1919.5" y="942.4" width="129.1" height="84" fill="#edecea" stroke="#b2ab9d"/><text x="1984" y="958.3">http2</text><text x="1984" y="972.8">(*Framer)</text><text x="1984" y="987.3">ReadFrame</text><text x="1984" y="1001.8">0.01s (0.34%)</text><text x="1984" y="1016.3">of 0.07s (2.37%)</text></g>
<g id="structEncoder" class="n t10"><rect x="2067" y="790.4" width="129.5" height="84.5" fill="#edecea" stroke="#b2ab9d"/><text x="2131.7" y="806.5">json</text><text x="2131.7" y="820.8">structEncoder</text><text x="2131.7" y="835.4">encode</text><text x="2131.7" y="850.1">0.01s (0.34%)</text><text x="2131.7" y="864.4">of 0.07s (2.37%)</text></g>
<g id="stringEncoder" class="n t11"><rect x="2073" y="947" width="144" height="74.9" fill="#edeceb" stroke="#b2afa6"/><text x="2145" y="963.5">json</text><text x="2145" y="979.3">stringEncoder</text><text x="2145" y="995.1">0.02s (0.68%)</text><text x="2145" y="1010.9">of 0.04s (1.36%)</text></g>
<g id="glgOut" class="n t8"><rect x="1612.3" y="1106.8" width="119.4" height="59.2" fill="#edebe8" stroke="#b2a691"/><text x="1672" y="1120.8">glg</text><text x="1672" y="1132.7">(*Glg)</text><text x="1672" y="1144.6">out</text><text x="1672" y="1156.5">0 of 0.11s (3.73%)</text></g>
<g id="resolverExchange" class="n t8"><rect x="1755.7" y="1106.8" width="118.3" height="59.2" fill="#edece9" stroke="#b2aa9a"/><text x="1814.9" y="1120.8">net</text><text x="1814.9" y="1132.7">(*Resolver)</text><text x="1814.9" y="1144.6">exchange</text><text x="1814.9" y="1156.5">0 of 0.08s (2.71%)</text></g>
<g id="fprintf" class="n t10"><rect x="1643" y="1257" width="129.6" height="69.3" fill="#edecea" stroke="#b2ab9d"/><text x="1707.8" y="1273">fmt</text><text x="1707.8" y="1287.7">Fprintf</text><text x="1707.8" y="1302.4">0.01s (0.34%)</text><text x="1707.8" y="1316.8">of 0.07s (2.37%)</text></g>
<g id="mcall" class="n t8"><rect x="1970" y="1268" width="126.5" height="47.7" fill="#eddbd5" stroke="#b22c00"/><text x="2033.3" y="1283">runtime</text><text x="2033.3" y="1295">mcall</text><text x="2033.3" y="1307">0 of 1.14s (38.64%)</text></g>
<g id="fdWrite" class="n t8"><rect x="1575" y="1425.3" width="127.1" height="58.7" fill="#ede1d9" stroke="#b2591b"/><text x="1638.5" y="1438.6">poll</text><text x="1638.5" y="1450.5">(*FD)</text><text x="1638.5" y="1462.4">Write</text><text x="1638.5" y="1474.4">0 of 0.50s (16.95%)</text></g>
<g id="ignoringEINTRIO" class="n t10"><rect x="1566.8" y="1599.3" width="143.5" height="69.3" fill="#ede0d7" stroke="#b25212"/><text x="1638.5" y="1614.9">poll</text><text x="1638.5" y="1629.6">ignoringEINTRIO</text><text x="1638.5" y="1644.3">0.01s (0.34%)</text><text x="1638.5" y="1659">of 0.53s (17.97%)</text></g>
<g id="syscallWrite" class="n t10"><rect x="1569.4" y="1749" width="137.8" height="69.7" fill="#ede1d9" stroke="#b25c1e"/><text x="1638.3" y="1765">syscall</text><text x="1638.3" y="1779.7">write</text><text x="1638.3" y="1794.4">0.01s (0.34%)</text><text x="1638.3" y="1809">of 0.49s (16.61%)</text></g>
<g id="syscallSyscall" class="n t8"><rect x="1575" y="1907.3" width="127.1" height="48.7" fill="#ede1d8" stroke="#b25718"/><text x="1638.5" y="1922">syscall</text><text x="1638.5" y="1934">Syscall</text><text x="1638.5" y="1946">0 of 0.51s (17.29%)</text></g>
<g id="rawSyscall6" class="n t8"><rect x="1575" y="2073" width="127.1" height="48.2" fill="#ede0d8" stroke="#b25515"/><text x="1638.5" y="2087.3">syscall</text><text x="1638.5" y="2099.3">RawSyscall6</text><text x="1638.5" y="2111.3">0 of 0.52s (17.63%)</text></g>
<g id="parkM" class="n t10"><rect x="1964.4" y="1419.7" width="137.7" height="69.3" fill="#eddbd5" stroke="#b22c00"/><text x="2033.3" y="1435.4">runtime</text><text x="2033.3" y="1450">park_m</text><text x="2033.3" y="1464.6">0.01s (0.34%)</text><text x="2033.3" y="1479.2">of 1.13s (38.31%)</text></g>
<g id="schedule" class="n t11"><rect x="1956.7" y="1596.5" width="153.1" height="74.4" fill="#eddbd5" stroke="#b22c00"/><text x="2033.3" y="1613.5">runtime</text><text x="2033.3" y="1629.6">schedule</text><text x="2033.3" y="1645.6">0.02s (0.68%)</text><text x="2033.3" y="1661.7">of 1.13s (38.31%)</text></g>
<g id="findRunnable" class="n t12"><rect x="1951.6" y="1743.4" width="162.8" height="80.4" fill="#eddbd5" stroke="#b22d00"/><text x="2033" y="1761.3">runtime</text><text x="2033" y="1778.6">findRunnable</text><text x="2033" y="1795.9">0.05s (1.69%)</text><text x="2033" y="1813.2">of 1.10s (37.29%)</text></g>
<g id="netpoll" class="n t11"><rect x="1726.1" y="1895" width="153.1" height="74.3" fill="#edddd5" stroke="#b23d00"/><text x="1802.7" y="1911">runtime</text><text x="1802.7" y="1927.1">netpoll</text><text x="1802.7" y="1943.2">0.03s (1.02%)</text><text x="1802.7" y="1959.2">of 0.72s (24.41%)</text></g>
<g id="epollWait" class="n t10"><rect x="1733.8" y="2062.5" width="137.2" height="69.8" fill="#edddd5" stroke="#b23f00"/><text x="1802.4" y="2078.2">syscall</text><text x="1802.4" y="2092.8">EpollWait</text><text x="1802.4" y="2107.4">0.01s (0.34%)</text><text x="1802.4" y="2122">of 0.69s (23.39%)</text></g>
<g id="prepareForSweep" class="n t11"><rect x="1955.7" y="1894.5" width="155.1" height="74.8" fill="#edeceb" stroke="#b2b0a9"/><text x="2033.3" y="1911">runtime</text><text x="2033.3" y="1927.1">(*mcache)</text><text x="2033.3" y="1943.2">prepareForSweep</text><text x="2033.3" y="1959.2">0.03s (1.02%)</text></g>
<g id="checkTimers" class="n t8"><rect x="2257.8" y="1907.3" width="118.8" height="48.7" fill="#edeae5" stroke="#b29a7c"/><text x="2317.2" y="1922">runtime</text><text x="2317.2" y="1934">checkTimers</text><text x="2317.2" y="1946">0 of 0.18s (6.10%)</text></g>
<g id="nanotime" class="n t13"><rect x="2075.1" y="2063.4" width="145.4" height="67.4" fill="#edece9" stroke="#b2aa9a"/><text x="2147.8" y="2082.7">runtime</text><text x="2147.8" y="2101.5">nanotime</text><text x="2147.8" y="2120.3">0.08s (2.71%)</text></g>
<g id="runtimer" class="n t11"><rect x="2245" y="2059.3" width="144.4" height="75.4" fill="#edeae6" stroke="#b29c7f"/><text x="2317.2" y="2076.3">runtime</text><text x="2317.2" y="2092.2">runtimer</text><text x="2317.2" y="2108.1">0.02s (0.68%)</text><text x="2317.2" y="2124">of 0.17s (5.76%)</text></g>
<g id="syscall6" class="n t24"><rect x="1671.5" y="2222.8" width="262.3" height="114.6" fill="#eddad5" stroke="#b22900"/><text x="1802.7" y="2253.1">syscall</text><text x="1802.7" y="2286.8">Syscall6</text><text x="1802.7" y="2321.5">1.21s (41.02%)</text></g>
<g id="runOneTimer" class="n t10"><rect x="2252.7" y="2245" width="129.6" height="69.7" fill="#edeae7" stroke="#b29f85"/><text x="2317.5" y="2260.3">runtime</text><text x="2317.5" y="2275.2">runOneTimer</text><text x="2317.5" y="2290.1">0.01s (0.34%)</text><text x="2317.5" y="2304.6">of 0.15s (5.08%)</text></g>
<g id="sendTime" class="n t8"><rect x="2257.8" y="2404.8" width="118.8" height="48.1" fill="#edebe7" stroke="#b2a38b"/><text x="2317.2" y="2419.2">time</text><text x="2317.2" y="2431.2">sendTime</text><text x="2317.2" y="2443.2">0 of 0.13s (4.41%)</text></g>
<g id="chansend" class="n t8"><rect x="2257.8" y="2520.8" width="118.8" height="47.7" fill="#edebe8" stroke="#b2a691"/><text x="2317.2" y="2534.8">runtime</text><text x="2317.2" y="2546.8">chansend</text><text x="2317.2" y="2558.8">0 of 0.11s (3.73%)</text></g>
<g id="runtimeSend" class="n t10"><rect x="2252.7" y="2636.8" width="129.6" height="69.8" fill="#edebe9" stroke="#b2a897"/><text x="2317.5" y="2652.2">runtime</text><text x="2317.5" y="2667">send</text><text x="2317.5" y="2681.8">0.01s (0.34%)</text><text x="2317.5" y="2696.4">of 0.09s (3.05%)</text></g>
<g id="runtimeReady" class="n t11"><rect x="2245" y="2774" width="144.4" height="74.7" fill="#edeceb" stroke="#b2afa6"/><text x="2317.2" y="2790.9">runtime</text><text x="2317.2" y="2806.9">ready</text><text x="2317.2" y="2822.9">0.02s (0.68%)</text><text x="2317.2" y="2838.9">of 0.04s (1.36%)</text></g>
</svg>
